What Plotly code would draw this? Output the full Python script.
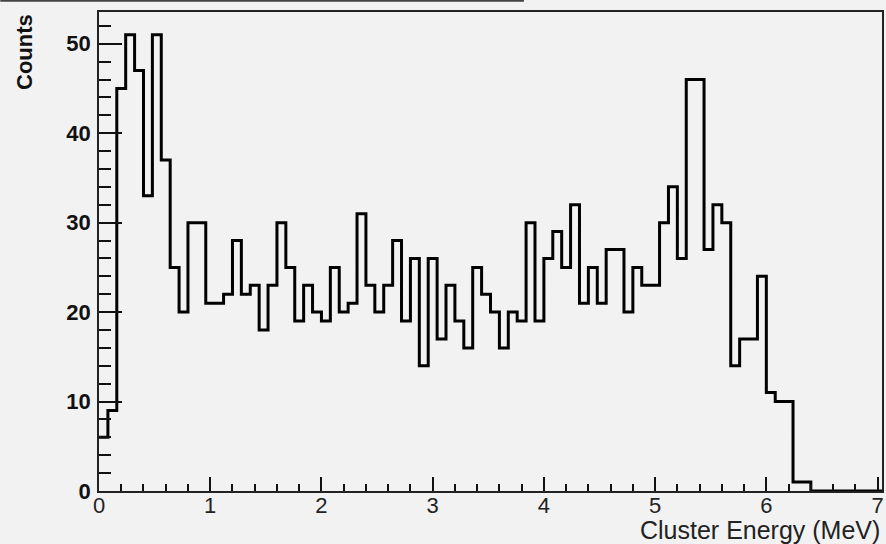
import numpy as np
import plotly.graph_objects as go

# Histogram: 0.08 MeV bins from 0 to 7.04 MeV
bin_width = 0.08
n_bins = 88
counts = [6, 9, 45, 51, 47, 33, 51, 37, 25, 20,
          30, 30, 21, 21, 22, 28, 22, 23, 18, 23,
          30, 25, 19, 23, 20, 19, 25, 20, 21, 31,
          23, 20, 23, 28, 19, 26, 14, 26, 17, 23,
          19, 16, 25, 22, 20, 16, 20, 19, 30, 19,
          26, 29, 25, 32, 21, 25, 21, 27, 27, 20,
          25, 23, 23, 30, 34, 26, 46, 46, 27, 32,
          30, 14, 17, 17, 24, 11, 10, 10, 1, 1,
          0, 0, 0, 0, 0, 0, 0, 0]
x_tick_vals = [0, 1, 2, 3, 4, 5, 6, 7]
x_tick_text = ["0", "1", "2", "3", "4", "5", "6", "7"]
y_tick_vals = [0, 10, 20, 30, 40, 50]
y_tick_text = ["0", "10", "20", "30", "40", "50"]
x_title = "Cluster Energy (MeV)"
y_title = "Counts"

edges = np.round(np.arange(n_bins + 1) * bin_width, 4)
x_step = list(edges)
y_step = counts + [counts[-1]]

x_max = float(edges[-1])
y_max = max(counts) * 1.05

BG = "#f2f2f2"
FONT = "Liberation Sans, Arial, sans-serif"

fig = go.Figure()
fig.add_trace(go.Scatter(
    x=x_step, y=y_step, mode="lines", line_shape="hv",
    line=dict(color="black", width=3), cliponaxis=False,
    hoverinfo="skip", showlegend=False))

fig.update_layout(
    width=886, height=544,
    margin=dict(l=99, r=2, t=12, b=53),
    paper_bgcolor=BG, plot_bgcolor=BG,
    showlegend=False,
    xaxis=dict(
        range=[0, x_max], showgrid=False, zeroline=False,
        tickmode="array", tickvals=x_tick_vals, ticktext=x_tick_text,
        ticks="inside", ticklen=14, tickwidth=1.5, tickcolor="#111",
        minor=dict(ticks="inside", ticklen=7, tickwidth=1.5, tickcolor="#111", dtick=0.2, tick0=0),
        showline=True, linecolor="#222", linewidth=1.5, mirror=True,
        tickfont=dict(family=FONT, size=22, color="#222"),
        ticklabelstandoff=-6,
    ),
    yaxis=dict(
        range=[0, y_max], showgrid=False, zeroline=False,
        tickmode="array", tickvals=y_tick_vals, ticktext=y_tick_text,
        ticks="inside", ticklen=23, tickwidth=1.5, tickcolor="#111",
        minor=dict(ticks="inside", ticklen=12, tickwidth=1.5, tickcolor="#111", dtick=2, tick0=0),
        showline=True, linecolor="#222", linewidth=1.5, mirror=True,
        tickfont=dict(family=FONT, size=22, color="#111", weight="bold"),
        ticklabelstandoff=2,
    ),
    annotations=[
        dict(text=x_title, xref="paper", yref="paper", x=1, y=0,
             xanchor="right", yanchor="middle", yshift=-39, showarrow=False,
             font=dict(family=FONT, size=25, color="#222")),
        dict(text=y_title, xref="paper", yref="paper", x=0, y=1,
             xanchor="center", yanchor="top", xshift=-75, textangle=-90,
             showarrow=False,
             font=dict(family=FONT, size=22, color="#111", weight="bold")),
    ],
    shapes=[
        dict(type="line", xref="paper", yref="paper",
             x0=-99 / 785, x1=(525 - 99) / 785, y0=1.0235, y1=1.0235,
             line=dict(color="#444", width=2)),
    ],
)

fig.write_html("out.html",
               config={"displayModeBar": False},
               post_script="document.body.style.margin='0';document.body.style.overflow='hidden';")
